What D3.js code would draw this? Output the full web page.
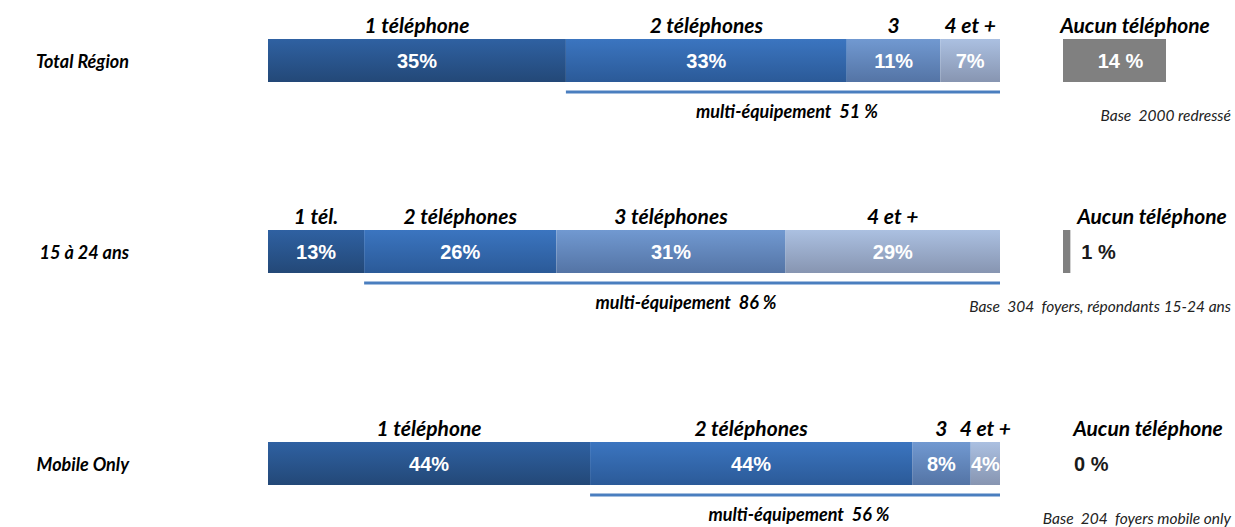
<!DOCTYPE html>
<meta charset="utf-8">
<style>
body { margin: 0; background: #fff; }
.cal { font-family: Lato, "Open Sans", sans-serif; font-style: italic; font-weight: bold; fill: #000; }
.pct { font-family: "Liberation Sans", Arial, sans-serif; font-weight: bold; font-size: 20px; }
.base { font-family: Lato, "Open Sans", sans-serif; font-style: italic; font-size: 15.5px; fill: #222; white-space: pre; }
</style>
<body>
<script src="https://cdn.jsdelivr.net/npm/d3@7"></script>
<script>

// data
var rowNames = ["Total Région", "15 à 24 ans", "Mobile Only"];
var segLabels = [
  ["1 téléphone", "2 téléphones", "3", "4 et +"],
  ["1 tél.", "2 téléphones", "3 téléphones", "4 et +"],
  ["1 téléphone", "2 téléphones", "3", "4 et +"]
];
var segValues = [
  [35, 33, 11, 7],
  [13, 26, 31, 29],
  [44, 44, 8, 4]
];
var aucun = [14, 1, 0];
var multi = [51, 86, 56];
var bases = ["Base  2000 redressé", "Base  304  foyers, répondants 15-24 ans", "Base  204  foyers mobile only"];

// layout
var width = 1235, height = 527;
var barTop = [39, 230, 442], barH = 43;
var aucunHeadX = [1135, 1152, 1148];
var segColors = [
  ["#2f61a2", "#234877"],
  ["#3b75c0", "#2b5a98"],
  ["#7199d1", "#5474a5"],
  ["#abc0e1", "#8795b1"]
];

var svg = d3.select("body").append("svg")
    .attr("width", width)
    .attr("height", height);

var defs = svg.append("defs");
segColors.forEach(function(c, i) {
  var g = defs.append("linearGradient")
      .attr("id", "grad" + i)
      .attr("x1", 0).attr("y1", 0).attr("x2", 0).attr("y2", 1);
  g.append("stop").attr("offset", "0%").attr("stop-color", c[0]);
  g.append("stop").attr("offset", "100%").attr("stop-color", c[1]);
});

var aucunX = d3.scaleLinear().domain([0, 14]).range([0, 103]);

rowNames.forEach(function(name, r) {
  var vals = segValues[r];
  var total = d3.sum(vals);
  var x = d3.scaleLinear().domain([0, total]).range([268, 1000]);
  var cum = d3.cumsum(vals);
  var segs = vals.map(function(v, i) {
    return { v: v, x0: cum[i] - v, x1: cum[i], label: segLabels[r][i], i: i };
  });
  var y0 = barTop[r];
  var g = svg.append("g");

  g.append("text")
      .attr("class", "cal")
      .attr("x", 129)
      .attr("y", y0 + barH / 2 + 7)
      .attr("text-anchor", "end")
      .style("font-size", "18px")
      .text(name);

  g.selectAll("rect.seg")
      .data(segs)
    .enter().append("rect")
      .attr("class", "seg")
      .attr("x", function(d) { return x(d.x0); })
      .attr("y", y0)
      .attr("width", function(d) { return x(d.x1) - x(d.x0); })
      .attr("height", barH)
      .attr("fill", function(d) { return "url(#grad" + d.i + ")"; });

  g.selectAll("text.pv")
      .data(segs)
    .enter().append("text")
      .attr("class", "pct")
      .attr("x", function(d) { return (x(d.x0) + x(d.x1)) / 2; })
      .attr("y", y0 + barH / 2 + 7)
      .attr("text-anchor", "middle")
      .attr("fill", "#fff")
      .text(function(d) { return d.v + "%"; });

  g.selectAll("text.hd")
      .data(segs)
    .enter().append("text")
      .attr("class", "cal")
      .attr("x", function(d) { return (x(d.x0) + x(d.x1)) / 2; })
      .attr("y", y0 - 6)
      .attr("text-anchor", "middle")
      .style("font-size", "21px")
      .text(function(d) { return d.label; });

  // multi-equipment bracket line
  var lx0 = x(vals[0]), lx1 = x(total);
  g.append("line")
      .attr("x1", lx0).attr("x2", lx1)
      .attr("y1", y0 + barH + 10).attr("y2", y0 + barH + 10)
      .attr("stroke", "#4a7ebf")
      .attr("stroke-width", 3);

  g.append("text")
      .attr("class", "cal")
      .attr("x", (lx0 + lx1) / 2 + 4)
      .attr("y", y0 + barH + 36)
      .attr("text-anchor", "middle")
      .style("font-size", "18px")
      .style("white-space", "pre")
      .text("multi-équipement  " + multi[r] + " %");

  // aucun téléphone
  var w = aucunX(aucun[r]);
  g.append("text")
      .attr("class", "cal")
      .attr("x", aucunHeadX[r])
      .attr("y", y0 - 6)
      .attr("text-anchor", "middle")
      .style("font-size", "21px")
      .text("Aucun téléphone");

  g.append("rect")
      .attr("x", 1063)
      .attr("y", y0)
      .attr("width", w)
      .attr("height", barH)
      .attr("fill", "#808080");

  var inside = w > 40;
  g.append("text")
      .attr("class", "pct")
      .attr("x", inside ? 1063 + w / 2 + 6 : 1063 + w + 11)
      .attr("y", y0 + barH / 2 + 7)
      .attr("text-anchor", inside ? "middle" : "start")
      .attr("fill", inside ? "#fff" : "#1a1a1a")
      .text(aucun[r] + " %");

  g.append("text")
      .attr("class", "base")
      .attr("x", 1231)
      .attr("y", y0 + barH + 39)
      .attr("text-anchor", "end")
      .text(bases[r]);
});

</script>
